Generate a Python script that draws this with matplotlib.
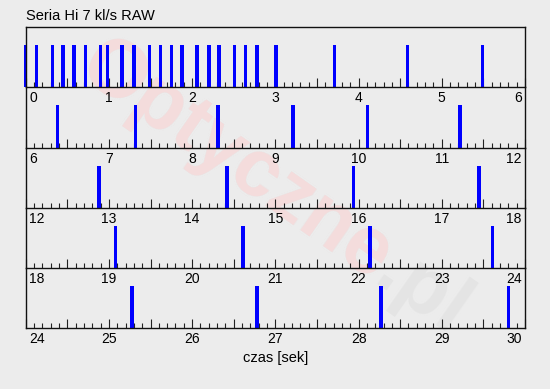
import matplotlib
matplotlib.use("Agg")
import matplotlib.pyplot as plt
from matplotlib.ticker import MultipleLocator

# frame times [s]
frame_times = [
    0.00, 0.13, 0.32, 0.45, 0.58, 0.72, 0.90, 0.98, 1.16, 1.30,
    1.49, 1.62, 1.75, 1.88, 2.06, 2.20, 2.32, 2.51, 2.64, 2.78,
    3.01, 3.71, 4.59, 5.49,
    6.38, 7.32, 8.31, 9.21, 10.11, 11.22,
    12.88, 14.42, 15.94, 17.45,
    19.08, 20.61, 22.14, 23.61,
    25.28, 26.78, 28.27, 29.80,
]
panel_starts = [0, 6, 12, 18, 24]
panel_span = 6
title = "Seria Hi 7 kl/s RAW"
xlabel = "czas [sek]"

plt.rcParams["font.family"] = ["Liberation Sans", "DejaVu Sans"]
bg = "#ececec"
fig = plt.figure(figsize=(5.5, 3.89), dpi=100, facecolor=bg)

# watermark behind everything
wm = dict(fontsize=58, fontweight="bold", rotation=-35, rotation_mode="anchor",
          ha="left", va="center", zorder=-5)
fig.text(0.16, 0.85, "Optyczne.pl", color="#e4e4e4", **wm)
fig.text(0.16, 0.85, "Optyczne", color="#f5dcdc", **wm)

left, width = 25.7 / 550, 499.3 / 550
top = 1 - 27 / 389
h = 60.25 / 389

for i, start in enumerate(panel_starts):
    ax = fig.add_axes([left, top - (i + 1) * h, width, h])
    ax.patch.set_alpha(0)
    t = [x for x in frame_times if start - 0.05 <= x < start + panel_span - 0.05]
    ax.bar(t, [0.7] * len(t), width=0.042, color="#0000ff", linewidth=0,
           clip_on=False, zorder=2)
    ax.set_xlim(start, start + panel_span)
    ax.set_ylim(0, 1)
    ax.set_yticks([])
    ax.xaxis.set_major_locator(MultipleLocator(0.5))
    ax.xaxis.set_minor_locator(MultipleLocator(0.1))
    ax.tick_params(axis="x", which="major", direction="in", length=6.7, width=0.8,
                   color="#222222", labelbottom=False)
    ax.tick_params(axis="x", which="minor", direction="in", length=3.6, width=0.8,
                   color="#222222")
    for s in ax.spines.values():
        s.set_linewidth(1.0)
        s.set_color("#111111")
    if i > 0:
        ax.spines["top"].set_visible(False)
    # integer labels, edge ones pushed inward
    for k in range(panel_span + 1):
        v = start + k
        ha = "left" if k == 0 else ("right" if k == panel_span else "center")
        dx = 0.04 if k == 0 else (-0.04 if k == panel_span else 0)
        ax.text(v + dx, -0.07, str(v), ha=ha, va="top", fontsize=10,
                transform=ax.get_xaxis_transform(), clip_on=False)
    if i == 0:
        ax.text(0.0, 1.07, title, fontsize=10.5, ha="left", va="bottom",
                transform=ax.transAxes)
    if i == len(panel_starts) - 1:
        ax.text(0.5, -0.38, xlabel, fontsize=10.5, ha="center", va="top",
                transform=ax.transAxes)

fig.savefig("out.png", dpi=100, facecolor=bg)
